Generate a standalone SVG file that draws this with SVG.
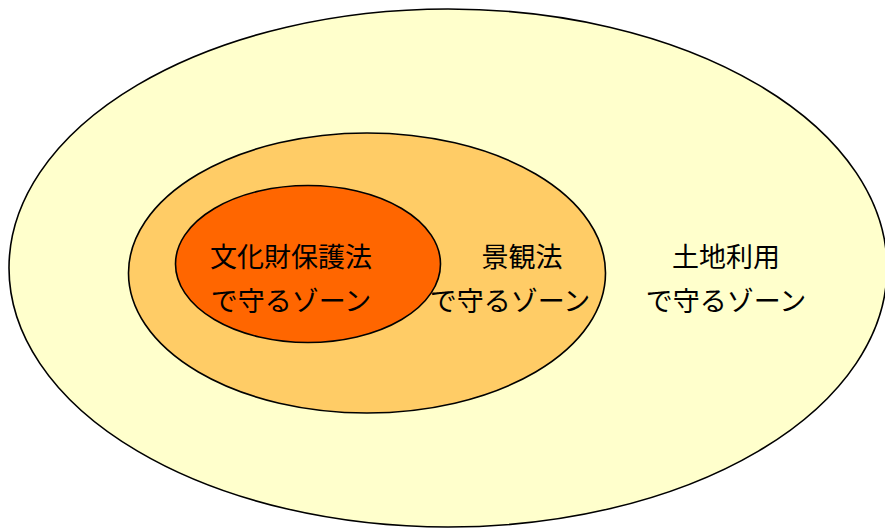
<svg xmlns="http://www.w3.org/2000/svg" width="885" height="528" viewBox="0 0 885 528">
<style>
.z{stroke:#000;stroke-width:1.6}
.t{font-family:"Noto Sans CJK JP","Noto Sans CJK SC",sans-serif;font-size:27px;fill:#000;text-anchor:middle}
</style>
<rect width="885" height="528" fill="#fff"/>
<g id="land">
<ellipse class="z" cx="448" cy="268" rx="439" ry="259" fill="#FFFFCC"/>
<text class="t" x="726" y="267">土地利用</text>
<text class="t" x="726" y="311">で守るゾーン</text>
</g>
<g id="landscape">
<ellipse class="z" cx="367" cy="273" rx="238.5" ry="140" fill="#FFCC66"/>
<text class="t" x="522" y="267">景観法</text>
<text class="t" x="510" y="311">で守るゾーン</text>
</g>
<g id="cultural">
<ellipse class="z" cx="308" cy="264" rx="132.5" ry="78.5" fill="#FF6600"/>
<text class="t" x="291" y="267">文化財保護法</text>
<text class="t" x="291" y="311">で守るゾーン</text>
</g>
<g id="connectors"/>
</svg>
